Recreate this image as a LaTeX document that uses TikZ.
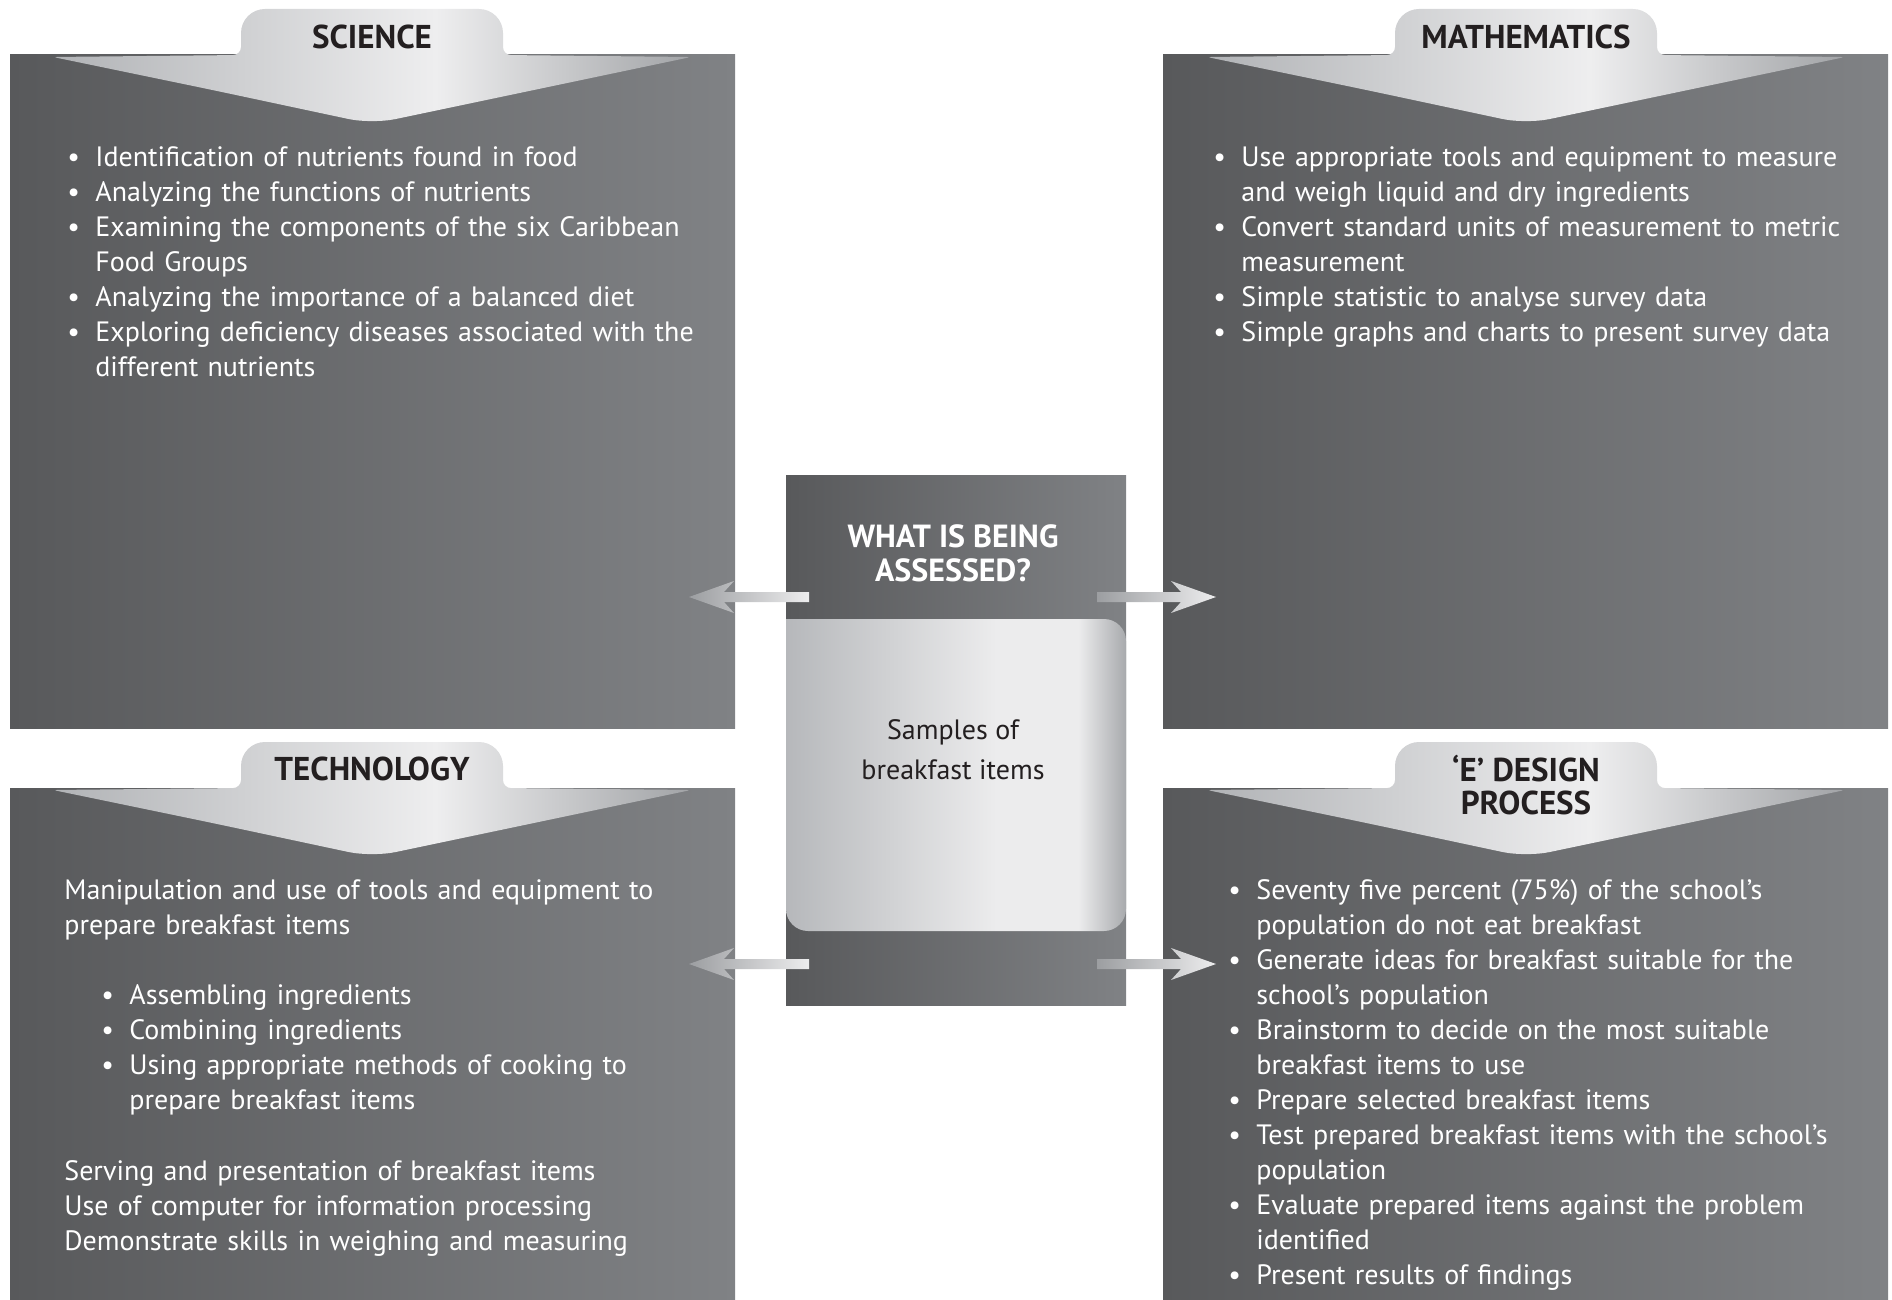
\documentclass[tikz,border=0pt]{standalone}
\usepackage{fontspec}
\setmainfont{PT Sans}
\usetikzlibrary{positioning,calc}

\definecolor{panelL}{HTML}{58595B}
\definecolor{panelR}{HTML}{808285}
\definecolor{bannerL}{HTML}{B1B3B6}
\definecolor{bannerM}{HTML}{EEEEEF}
\definecolor{bannerR}{HTML}{A2A4A7}
\definecolor{cardL}{HTML}{B6B8BB}
\definecolor{cardM}{HTML}{ECECED}
\definecolor{cardR}{HTML}{A8AAAD}
\definecolor{arrowL}{HTML}{9C9EA1}
\definecolor{arrowR}{HTML}{EDEDEE}
\definecolor{inkdark}{HTML}{231F20}

\pgfdeclarehorizontalshading{bannerfade}{100bp}{color(0bp)=(bannerL); color(25bp)=(bannerL); color(55bp)=(bannerM); color(75bp)=(bannerR); color(100bp)=(bannerR)}
\pgfdeclarehorizontalshading{cardfade}{100bp}{color(0bp)=(cardL); color(25bp)=(cardL); color(56bp)=(cardM); color(68bp)=(cardM); color(75bp)=(cardR); color(100bp)=(cardR)}

\tikzset{
        % grey boxes
        panel/.style={rectangle, inner sep=0pt, outer sep=0pt, left color=panelL, right color=panelR, anchor=north west},
        % banner, card and arrow fills
        bannershade/.style={shade, shading=bannerfade},
        cardshade/.style={shade, shading=cardfade},
        arrowshade/.style={left color=arrowL, right color=arrowR},
        % texts
        headtext/.style={align=center, inner sep=0pt, text=inkdark, font=\fontsize{16.5}{16.5}\selectfont\bfseries},
        titletext/.style={headtext, text=white, font=\fontsize{16}{17}\selectfont\bfseries},
        bodytext/.style={anchor=base west, inner sep=0pt, text=white, text width=340pt, align=left, font=\fontsize{14}{17.5}\selectfont},
        cardtext/.style={align=center, inner sep=0pt, text=inkdark, font=\fontsize{14}{20}\selectfont}
}

% bullet with hanging indent
\newcommand{\bul}[1]{\hangindent=14pt\hangafter=1\noindent\makebox[14pt][l]{\textbullet}#1\par}
% tab and chevron over a box: centre x, top of box
\newcommand{\banner}[2]{%
    \path[bannershade, shift={(#1,#2)}] (-159.5,35) [rounded corners=2pt] -- (-319,2)
        [rounded corners=4pt] -- (-131,0) [rounded corners=12pt] -- (-131,-46) -- (131,-46)
        [rounded corners=4pt] -- (131,0) [rounded corners=2pt] -- (319,2) [rounded corners=12pt] -- (0,69) -- cycle;}
% flat arrow: tail, tip, direction
\newcommand{\flatarrow}[3]{%
    \path[arrowshade] let \p1=(#1), \p2=(#2) in
        (\x1,{\y1+2.5pt}) -- ({\x2-(#3)*17.5pt},{\y1+2.5pt}) -- ({\x2-(#3)*22.5pt},{\y1+8pt})
        -- (\x2,\y2) -- ({\x2-(#3)*22.5pt},{\y1-8pt}) -- ({\x2-(#3)*17.5pt},{\y1-2.5pt})
        -- (\x1,{\y1-2.5pt}) -- cycle;}

\begin{document}
\begin{tikzpicture}[x=0.5pt, y=-0.5pt]
    \useasboundingbox (0,0) rectangle (1892,1300);

    % boxes
    \node[panel, minimum width=362.5pt, minimum height=336.5pt] (sci) at (10,55) {};
    \node[panel, minimum width=362.5pt, minimum height=336.5pt] (math) at (1163,55) {};
    \node[panel, minimum width=362.5pt, minimum height=256pt] (tech) at (10,788) {};
    \node[panel, minimum width=362.5pt, minimum height=256pt] (design) at (1163,788) {};
    \node[panel, minimum width=170pt, minimum height=264.5pt] (centre) at (786,476) {};

    % banners
    \banner{372}{55}
    \banner{1526}{55}
    \banner{372}{788}
    \banner{1526}{788}

    % light card in the middle
    \path[cardshade] (786,775) [sharp corners] -- (786,619) [rounded corners=11pt] -- (1126,619)
        -- (1126,931) -- (786,931) -- cycle;

    % arrows
    \coordinate (sciTail) at (809,597);
    \coordinate (sciTip) at (689,597);
    \coordinate (mathTail) at (1097,597);
    \coordinate (mathTip) at (1216,597);
    \coordinate (techTail) at (809,964);
    \coordinate (techTip) at (689,964);
    \coordinate (designTail) at (1097,964);
    \coordinate (designTip) at (1216,964);
    \flatarrow{sciTail}{sciTip}{-1}
    \flatarrow{mathTail}{mathTip}{1}
    \flatarrow{techTail}{techTip}{-1}
    \flatarrow{designTail}{designTip}{1}

    % headings
    \node[headtext] (sciHead) at (372,37) {SCIENCE};
    \node[headtext] (mathHead) at (1526,37) {MATHEMATICS};
    \node[headtext] (techHead) at (372,769) {TECHNOLOGY};
    \node[headtext] (designHead) at (1526,785) {‘E’ DESIGN\\PROCESS};
    \node[titletext] (centreTitle) at (953,553) {WHAT IS BEING\\ASSESSED?};
    \node[cardtext] (centreText) at (953,750) {Samples of\\breakfast items};

    % lists
    \node[bodytext] (sciList) at (67,167) {%
        \bul{Identification of nutrients found in food}
        \bul{Analyzing the functions of nutrients}
        \bul{Examining the components of the six Caribbean\newline Food Groups}
        \bul{Analyzing the importance of a balanced diet}
        \bul{Exploring deficiency diseases associated with the\newline different nutrients}};
    \node[bodytext] (mathList) at (1213,167) {%
        \bul{Use appropriate tools and equipment to measure\newline and weigh liquid and dry ingredients}
        \bul{Convert standard units of measurement to metric\newline measurement}
        \bul{Simple statistic to analyse survey data}
        \bul{Simple graphs and charts to present survey data}};
    \node[bodytext] (techIntro) at (64,899) {Manipulation and use of tools and equipment to\\prepare breakfast items};
    \node[bodytext] (techSteps) at (101,1004) {%
        \bul{Assembling ingredients}
        \bul{Combining ingredients}
        \bul{Using appropriate methods of cooking to\newline prepare breakfast items}};
    \node[bodytext] (techMore) at (64,1180) {Serving and presentation of breakfast items\\Use of computer for information processing\\Demonstrate skills in weighing and measuring};
    \node[bodytext] (designList) at (1228,899) {%
        \bul{Seventy five percent (75\%) of the school’s\newline population do not eat breakfast}
        \bul{Generate ideas for breakfast suitable for the\newline school’s population}
        \bul{Brainstorm to decide on the most suitable\newline breakfast items to use}
        \bul{Prepare selected breakfast items}
        \bul{Test prepared breakfast items with the school’s\newline population}
        \bul{Evaluate prepared items against the problem\newline identified}
        \bul{Present results of findings}};
\end{tikzpicture}
\end{document}
